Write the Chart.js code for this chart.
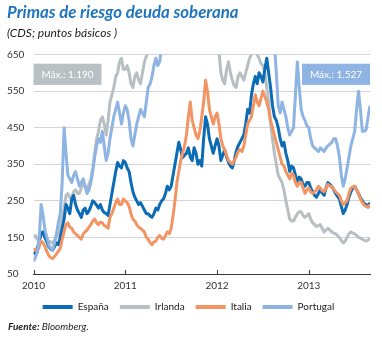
<!DOCTYPE html>
<html lang="es">
<head>
<meta charset="utf-8">
<script src="https://cdn.jsdelivr.net/npm/chart.js@4.4.1/dist/chart.umd.min.js"></script>
<style>
  html, body { margin: 0; padding: 0; background: #fff; }
  #wrap { position: relative; width: 382px; height: 338px; }
</style>
</head>
<body>
<div id="wrap"><canvas id="primas"></canvas></div>
<script>
// CDS a 5 años en puntos básicos, datos semanales desde enero de 2010
const inicio = 2010;
const porAnio = 48;

const espana = [
  110, 105, 120, 140, 160, 165, 150, 138, 125, 118, 115, 125, 135, 130, 150, 175, 200, 240, 230, 215,
  255, 265, 240, 225, 215, 205, 225, 230, 215, 222, 235, 250, 245, 238, 230, 240, 225, 218, 215, 210,
  240, 270, 300, 330, 355, 345, 340, 360,
  355, 340, 330, 300, 275, 260, 250, 240, 245, 235, 225, 215, 215, 208, 205, 215, 230, 225, 240, 250,
  255, 270, 290, 280, 290, 320, 350, 380, 410, 390, 368, 375, 380, 395, 370, 360, 395, 380, 350, 360,
  345, 420, 480, 460, 420, 400, 380, 400,
  420, 400, 360, 375, 390, 370, 355, 345, 340, 360, 385, 400, 410, 420, 430, 460, 500, 490, 540, 570,
  590, 570, 600, 590, 575, 610, 640, 600, 560, 510, 480, 470, 450, 420, 400, 410, 380, 360, 330, 345,
  340, 320, 300, 315, 310, 295, 290, 300,
  300, 285, 275, 265, 260, 270, 280, 272, 265, 285, 300, 295, 290, 280, 270, 262, 255, 235, 215, 225,
  240, 260, 275, 285, 290, 280, 270, 258, 250, 242, 240, 235, 245
];
const irlanda = [
  150, 155, 145, 150, 165, 160, 150, 145, 140, 138, 135, 142, 150, 160, 175, 200, 230, 265, 270, 258,
  260, 275, 280, 270, 270, 285, 300, 290, 280, 295, 310, 340, 380, 420, 440, 470, 480, 460, 430, 470,
  520, 540, 560, 590, 600, 630, 640, 610,
  610, 620, 600, 570, 560, 590, 600, 580, 570, 600, 630, 645, 660, 670, 680, 700, 720, 760, 800, 850,
  900, 920, 950, 1000, 1100, 1150, 1190, 1050, 900, 850, 800, 780, 750, 780, 800, 770, 750, 730, 720, 740,
  760, 780, 800, 780, 760, 750, 740, 720,
  700, 660, 600, 580, 570, 610, 630, 600, 580, 565, 560, 590, 600, 590, 580, 600, 620, 640, 650, 660,
  660, 650, 640, 625, 620, 600, 560, 520, 460, 420, 380, 350, 320, 310, 300, 280, 250, 225, 200, 195,
  195, 205, 215, 220, 220, 210, 205, 210,
  215, 200, 190, 185, 180, 182, 185, 175, 165, 170, 175, 170, 165, 162, 160, 155, 150, 142, 135, 140,
  150, 160, 165, 162, 160, 155, 150, 148, 145, 142, 140, 143, 148
];
const italia = [
  115, 118, 110, 125, 140, 135, 125, 112, 100, 95, 92, 98, 105, 112, 120, 145, 165, 185, 190, 178,
  175, 165, 160, 155, 150, 145, 160, 165, 170, 178, 185, 195, 200, 190, 185, 192, 190, 182, 180, 175,
  205, 215, 230, 245, 255, 240, 240, 255,
  250, 245, 235, 215, 200, 195, 185, 178, 175, 170, 165, 150, 145, 135, 130, 138, 140, 150, 155, 148,
  145, 155, 165, 160, 175, 210, 250, 300, 330, 360, 380, 400, 430, 480, 520, 470, 450, 430, 420, 440,
  480, 520, 580, 550, 500, 480, 460, 480,
  490, 460, 420, 400, 390, 375, 360, 355, 350, 360, 370, 385, 390, 385, 400, 430, 460, 470, 480, 510,
  540, 520, 510, 530, 550, 535, 520, 500, 470, 450, 430, 410, 390, 370, 350, 345, 330, 320, 310, 325,
  320, 300, 290, 300, 300, 285, 270, 280,
  285, 275, 270, 275, 280, 290, 285, 278, 275, 285, 295, 290, 290, 282, 275, 270, 265, 250, 240, 245,
  250, 270, 285, 288, 290, 280, 270, 255, 245, 238, 235, 232, 240
];
const portugal = [
  85, 95, 110, 150, 240, 210, 170, 150, 130, 120, 115, 135, 160, 190, 215, 300, 450, 380, 320, 310,
  300, 320, 330, 310, 290, 300, 310, 290, 270, 280, 300, 330, 370, 400, 420, 410, 440, 400, 360, 380,
  420, 450, 480, 500, 520, 490, 460, 490,
  510, 500, 470, 420, 400, 430, 460, 480, 500, 490, 480, 520, 560, 570, 590, 620, 640, 620, 630, 670,
  700, 750, 800, 850, 900, 950, 1000, 950, 900, 950, 1050, 1080, 1100, 1050, 1000, 1050, 1100, 1080, 1050, 1100,
  1150, 1180, 1200, 1150, 1100, 1080, 1050, 1120,
  1200, 1350, 1527, 1400, 1300, 1200, 1100, 1000, 900, 870, 850, 900, 950, 980, 1000, 1020, 1050, 980, 900, 930,
  950, 920, 880, 850, 800, 780, 750, 720, 700, 690, 680, 600, 510, 490, 520, 500, 480, 450, 430, 440,
  450, 540, 630, 560, 500, 480, 470, 455,
  450, 420, 400, 395, 390, 385, 395, 390, 385, 395, 400, 405, 410, 420, 420, 400, 370, 320, 290, 310,
  340, 370, 400, 420, 440, 500, 550, 500, 440, 440, 445, 480, 510
];

const paises = ['España', 'Irlanda', 'Italia', 'Portugal'];
const colores = ['#0b6cb5', '#b7bfc3', '#f29463', '#8eb4e3'];
const anios = [2010, 2011, 2012, 2013];

const fechas = espana.map((_, i) => inicio + i / porAnio);
const puntos = serie => serie.map((v, i) => ({ x: fechas[i], y: v }));
const miles = n => String(n).replace(/\B(?=(\d{3})+(?!\d))/g, '.');

Chart.defaults.font.family = 'Lato';
Chart.defaults.color = '#333';

// recuadros con el máximo de Irlanda (izquierda) y Portugal (derecha)
const cajasMaximo = {
  id: 'cajasMaximo',
  afterDatasetsDraw(chart) {
    const { ctx, chartArea, scales: { y } } = chart;
    const top = y.getPixelForValue(625);
    const h = y.getPixelForValue(567) - top;
    const w = 68;
    const cajas = [
      [chartArea.left, irlanda, '#b9c1c5'],
      [chartArea.right - w, portugal, '#8fb4e3']
    ];
    ctx.save();
    ctx.font = '10px Lato';
    ctx.textAlign = 'center';
    ctx.textBaseline = 'middle';
    cajas.forEach(([left, serie, color]) => {
      ctx.fillStyle = color;
      ctx.fillRect(left, top, w, h);
      ctx.fillStyle = '#fff';
      ctx.fillText('Máx.: ' + miles(Math.max(...serie)), left + w / 2, top + h / 2 + 0.5);
    });
    ctx.restore();
  }
};

// marcas de año hacia arriba sobre el eje y nota de fuente
const marcasYFuente = {
  id: 'marcasYFuente',
  afterDraw(chart) {
    const { ctx, chartArea, scales: { x } } = chart;
    ctx.save();
    ctx.strokeStyle = '#3a3a3a';
    ctx.lineWidth = 1;
    x.ticks.forEach(t => {
      const px = Math.round(x.getPixelForValue(t.value)) + 0.5;
      ctx.beginPath();
      ctx.moveTo(px, chartArea.bottom);
      ctx.lineTo(px, chartArea.bottom - 4);
      ctx.stroke();
    });
    ctx.fillStyle = '#222';
    ctx.textBaseline = 'middle';
    ctx.font = 'italic bold 10px Lato';
    ctx.fillText('Fuente:', 8, chart.height - 11);
    const w = ctx.measureText('Fuente: ').width;
    ctx.font = 'italic 10px Lato';
    ctx.fillText('Bloomberg.', 8 + w, chart.height - 11);
    ctx.restore();
  }
};

const series = [espana, irlanda, italia, portugal];
const orden = [2, 3, 1, 0];

new Chart(document.getElementById('primas'), {
  type: 'line',
  data: {
    datasets: series.map((s, k) => ({
      label: paises[k],
      data: puntos(s),
      borderColor: colores[k],
      backgroundColor: colores[k],
      borderWidth: 3,
      borderJoinStyle: 'round',
      pointRadius: 0,
      tension: 0,
      order: orden[k]
    }))
  },
  options: {
    responsive: true,
    maintainAspectRatio: false,
    animation: false,
    layout: { padding: { left: 7, right: 12, top: 0, bottom: 16 } },
    scales: {
      x: {
        type: 'linear',
        min: inicio,
        max: inicio + (espana.length - 1) / porAnio,
        grid: { display: false, drawTicks: false },
        border: { display: true, color: '#3a3a3a', width: 1 },
        afterBuildTicks: scale => { scale.ticks = anios.map(v => ({ value: v })); },
        afterFit: scale => { scale.height = 17; },
        ticks: { font: { size: 10 }, padding: 6, maxRotation: 0, callback: v => String(v) }
      },
      y: {
        min: 50,
        max: 650,
        grid: { color: '#d4d4d4', drawTicks: false },
        border: { display: false },
        afterFit: scale => { scale.width = 26.5; },
        ticks: { stepSize: 100, font: { size: 10 }, padding: 6, crossAlign: 'far' }
      }
    },
    plugins: {
      title: {
        display: true,
        text: 'Primas de riesgo deuda soberana',
        align: 'start',
        color: '#1f74be',
        font: { size: 16.8, weight: 'bold', style: 'italic' },
        padding: { top: 3, bottom: 0 }
      },
      subtitle: {
        display: true,
        text: '(CDS; puntos básicos )',
        align: 'start',
        color: '#222',
        font: { size: 12, style: 'italic' },
        padding: { top: 3, bottom: 14 }
      },
      legend: {
        position: 'bottom',
        labels: {
          boxWidth: 30,
          boxHeight: 4,
          padding: 11,
          font: { size: 10 },
          color: '#222',
          sort: (a, b) => a.datasetIndex - b.datasetIndex,
          generateLabels: chart =>
            Chart.defaults.plugins.legend.labels.generateLabels(chart)
              .map(it => ({ ...it, lineWidth: 0 }))
        }
      },
      tooltip: { enabled: false }
    }
  },
  plugins: [cajasMaximo, marcasYFuente]
});
</script>
</body>
</html>
